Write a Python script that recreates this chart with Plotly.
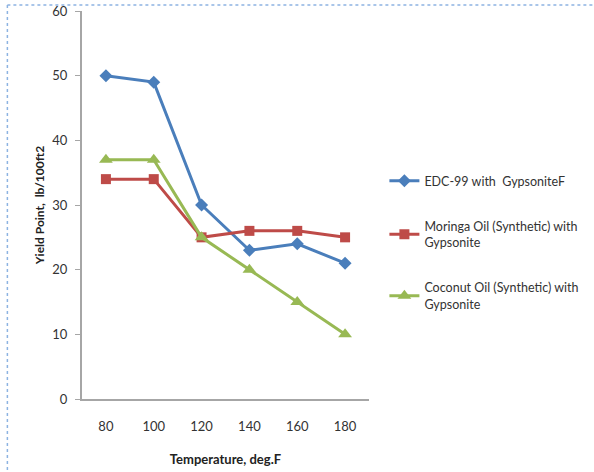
import plotly.graph_objects as go

temps = ["80", "100", "120", "140", "160", "180"]
edc99 = [50, 49, 30, 23, 24, 21]
moringa = [34, 34, 25, 26, 26, 25]
coconut = [37, 37, 25, 20, 15, 10]
names = ["EDC-99 with  GypsoniteF",
         "Moringa Oil (Synthetic) with<br>Gypsonite",
         "Coconut Oil (Synthetic) with<br>Gypsonite"]
y_ticks = [0, 10, 20, 30, 40, 50, 60]

FONT = "Lato, Open Sans, sans-serif"

fig = go.Figure()
fig.add_trace(go.Scatter(x=temps, y=edc99, name=names[0], mode="lines+markers",
                         line=dict(color="#4a7ebb", width=3),
                         marker=dict(symbol="diamond", size=10, color="#4a7ebb"),
                         legendgroup="a"))
fig.add_trace(go.Scatter(x=temps, y=moringa, name=names[1], mode="lines+markers",
                         line=dict(color="#be4b48", width=3),
                         marker=dict(symbol="square", size=10, color="#be4b48"),
                         legendgroup="b"))
fig.add_trace(go.Scatter(x=temps, y=coconut, name=names[2], mode="lines+markers",
                         line=dict(color="#98b954", width=3),
                         marker=dict(symbol="triangle-up", size=12, color="#98b954"),
                         legendgroup="c"))

fig.update_layout(
    width=594, height=472,
    margin=dict(l=82, r=224, t=11, b=73),
    paper_bgcolor="white", plot_bgcolor="white",
    font=dict(family=FONT, size=13, color="#333333"),
    showlegend=True,
    legend=dict(x=1.05, y=0.60, xanchor="left", yanchor="top",
                font=dict(family=FONT, size=12.5, color="#333333"),
                tracegroupgap=26, bgcolor="rgba(0,0,0,0)"),
    xaxis=dict(type="category", range=[-0.5, 5.5], showgrid=False,
               automargin=False,
               showline=True, linecolor="#a6a6a6", linewidth=2,
               ticks="", ticklabelstandoff=14,
               tickfont=dict(size=13, color="#333333"),
               title=dict(text="<b>Temperature, deg.F</b>", standoff=22,
                          font=dict(size=13, color="#222222"))),
    yaxis=dict(range=[0, 60], tickvals=y_ticks, showgrid=False, zeroline=False,
               automargin=False,
               showline=True, linecolor="#a6a6a6", linewidth=2,
               ticks="outside", ticklen=5, tickcolor="#a6a6a6",
               ticklabelstandoff=5,
               tickfont=dict(size=13, color="#333333"),
               title=dict(text="<b>Yield Point,  lb/100ft2</b>", standoff=5,
                          font=dict(size=12, color="#222222"))),
    shapes=[
        dict(type="line", xref="paper", yref="paper", x0=-0.26, x1=1.8,
             y0=1.0155, y1=1.0155, line=dict(color="#8db3e2", width=1.5, dash="dot")),
        dict(type="line", xref="paper", yref="paper", x0=-0.26, x1=-0.26,
             y0=1.0155, y1=-0.2, line=dict(color="#8db3e2", width=1.5, dash="dot")),
    ],
)

fig.write_html("out.html")
